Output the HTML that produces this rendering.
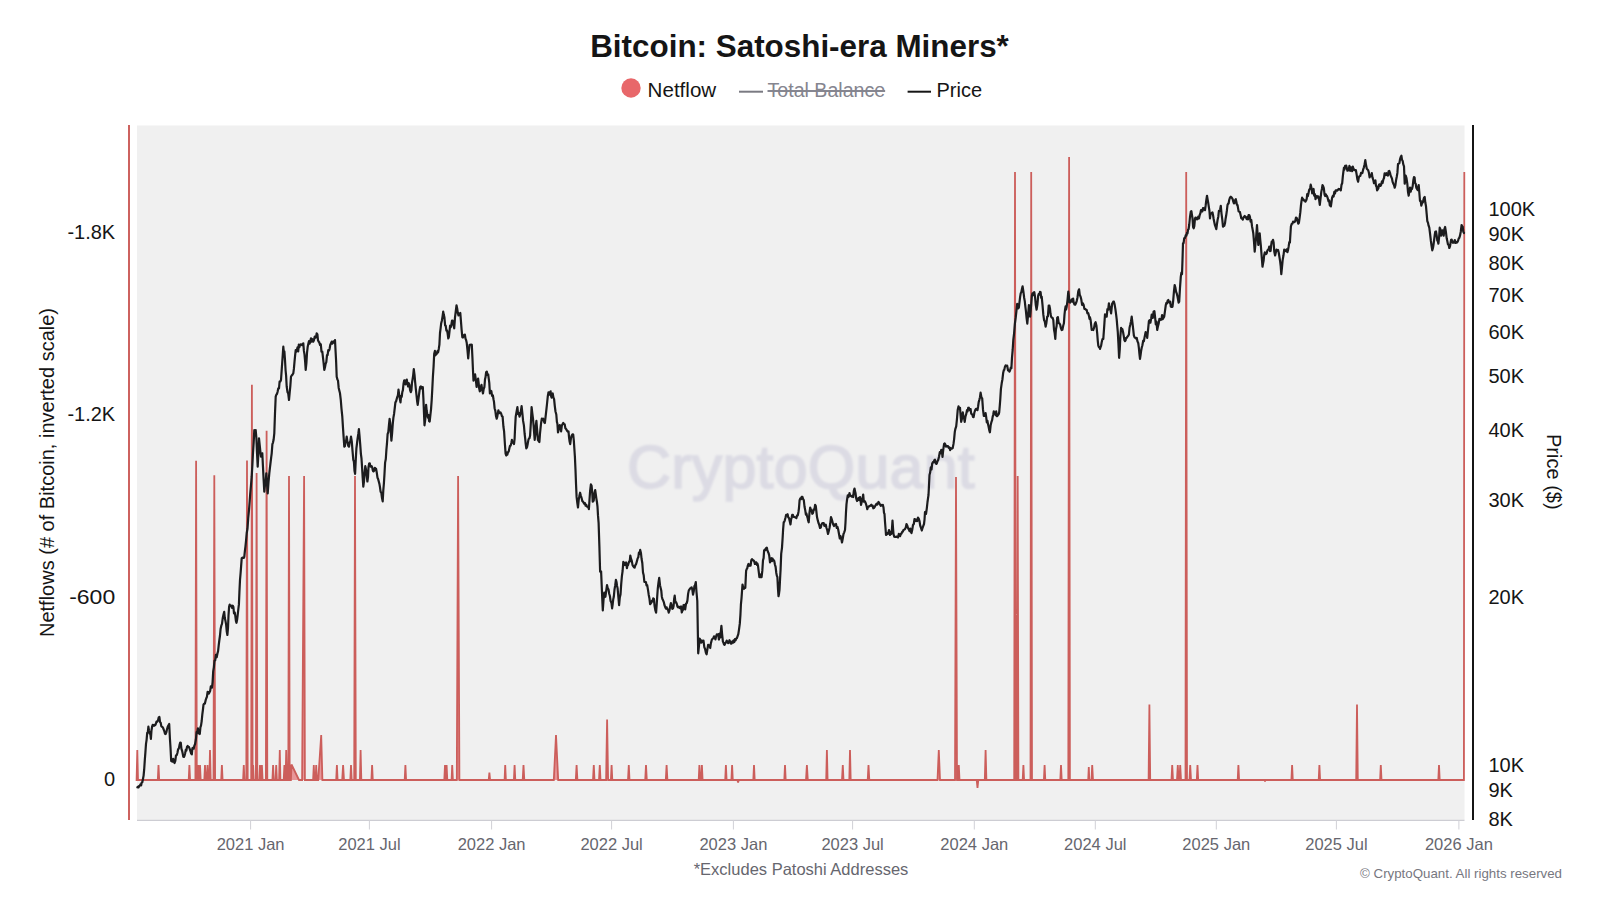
<!DOCTYPE html>
<html><head><meta charset="utf-8"><title>Bitcoin: Satoshi-era Miners</title>
<style>
html,body{margin:0;padding:0;background:#fff;width:1600px;height:900px;overflow:hidden}
svg{display:block}
text{font-family:"Liberation Sans",sans-serif}
</style></head><body>
<svg width="1600" height="900" viewBox="0 0 1600 900">
<rect x="0" y="0" width="1600" height="900" fill="#fff"/>
<!-- title -->
<text x="799.5" y="57" text-anchor="middle" font-size="31.4" font-weight="bold" fill="#151515">Bitcoin: Satoshi-era Miners*</text>
<!-- legend -->
<circle cx="631" cy="88" r="9.7" fill="#e8676a"/>
<text x="647.6" y="97" font-size="20" fill="#151515" textLength="68.6" lengthAdjust="spacingAndGlyphs">Netflow</text>
<line x1="739" y1="91.7" x2="763" y2="91.7" stroke="#7a7a82" stroke-width="2"/>
<text x="767.5" y="97" font-size="19.6" fill="#85858f" text-decoration="line-through">Total Balance</text>
<line x1="907.6" y1="91.7" x2="931" y2="91.7" stroke="#151515" stroke-width="2"/>
<text x="936.5" y="97" font-size="20" fill="#151515">Price</text>
<!-- plot bg -->
<rect x="137" y="125.5" width="1327.5" height="694.5" fill="#f0f0f0"/>
<!-- watermark -->
<defs><filter id="wmb" x="-10%" y="-30%" width="120%" height="160%"><feGaussianBlur stdDeviation="1.2"/></filter></defs>
<text x="801" y="488" text-anchor="middle" font-size="61" letter-spacing="0.2" fill="#dcdbe4" stroke="#dcdbe4" stroke-width="1.6" filter="url(#wmb)">CryptoQuant</text>
<path d="M137.2,780 L136.6,780 L137.3,750 L138,780 L157.8,780 L158.5,765 L159.2,780 L188.7,780 L189.4,765 L190.1,780 L195.4,780 L196.1,460.7 L196.8,780 L197.4,780 L198.1,765 L198.8,780 L199.3,780 L200,765 L200.7,780 L204.3,780 L205,765 L205.7,780 L206.8,780 L207.5,765 L208.2,780 L209.3,780 L210,750 L210.7,780 L213.5,780 L214.3,475.3 L215.1,780 L221.2,780 L221.9,765 L222.6,780 L243.1,780 L243.8,765 L244.4,780 L246.3,780 L247,460.4 L247.7,780 L251.2,780 L251.9,384.7 L252.6,780 L252.4,780 L253.1,765 L253.8,780 L255.9,780 L256.6,473 L257.3,780 L259.3,780 L260,765 L260.7,780 L261.2,780 L261.9,765 L262.6,780 L265.9,780 L266.6,430.7 L267.3,780 L272.4,780 L273.1,765 L273.8,780 L275.6,780 L276.2,765 L276.9,780 L279.1,780 L279.8,750 L280.4,780 L283.7,780 L284.4,765 L285.1,780 L285.6,780 L286.2,750 L286.9,780 L288.3,780 L289,476 L289.7,780 L290.9,780 L291.5,764.5 L299,780 L302.1,780 L304.1,476 L304.9,780 L313.1,780 L313.8,765 L314.4,780 L315.6,780 L316.2,765 L316.9,780 L318.2,780 L321.2,735 L322.4,780 L336.2,780 L336.9,765 L337.6,780 L342.2,780 L343.1,765 L344,780 L350.3,780 L351,765 L351.7,780 L354.2,780 L355,476 L355.8,780 L359.9,780 L360.6,750 L361.3,780 L371.4,780 L372.1,765 L372.8,780 L404.7,780 L405.4,765 L406.1,780 L444.3,780 L445,765 L445.7,780 L445.9,780 L446.6,765 L447.3,780 L451.6,780 L452.2,765 L452.9,780 L456.8,780 L458.1,476 L459.4,780 L488.7,780 L489.4,772.5 L490.1,780 L504.6,780 L505.2,765 L505.9,780 L513.9,780 L514.6,765 L515.3,780 L522.7,780 L523.5,765 L524.3,780 L553.8,780 L556,735 L558.2,780 L575.8,780 L576.6,765 L577.4,780 L593,780 L593.8,765 L594.5,780 L599,780 L599.8,765 L600.5,780 L606.1,780 L607.1,719.4 L608.1,780 L610.9,780 L611.6,765 L612.3,780 L628,780 L628.8,765 L629.5,780 L645.2,780 L646,765 L646.8,780 L665.8,780 L666.6,765 L667.4,780 L698.7,780 L699.4,765 L700.1,780 L701.2,780 L701.9,765 L702.6,780 L725.2,780 L725.9,765 L726.6,780 L731.4,780 L732.1,765 L732.8,780 L737.4,780 L738.1,782.5 L738.8,780 L753.3,780 L754,765 L754.7,780 L784.3,780 L785,765 L785.7,780 L806,780 L806.9,765 L807.8,780 L826.2,780 L826.9,750 L827.6,780 L842,780 L842.8,765 L843.5,780 L849.3,780 L850,750 L850.7,780 L867.7,780 L868.5,765 L869.3,780 L937.5,780 L938.8,750 L940,780 L955,780 L956,477 L957,780 L958,780 L958.8,765 L959.5,780 L976.7,780 L977.5,788 L978.3,780 L984.8,780 L985.6,750 L986.4,780 L1014.2,780 L1015,172 L1015.8,780 L1017,780 L1017.7,476 L1018.4,780 L1022.7,780 L1023.4,765 L1024.1,780 L1030.5,780 L1031.2,172 L1032,780 L1043.9,780 L1044.6,765 L1045.3,780 L1060.3,780 L1061,765 L1061.7,780 L1068.3,780 L1069.1,157 L1069.9,780 L1088.2,780 L1088.8,767 L1089.3,780 L1091.5,780 L1092.2,765 L1093,780 L1148.6,780 L1149.4,704.4 L1150.2,780 L1171.5,780 L1172.2,765 L1173,780 L1177,780 L1177.8,765 L1178.5,780 L1179.5,780 L1180.2,765 L1181,780 L1185.5,780 L1186.2,172 L1187,780 L1189.5,780 L1190.2,765 L1191,780 L1196.8,780 L1197.5,765 L1198.2,780 L1237.7,780 L1238.4,765 L1239.1,780 L1264.4,780 L1265,781.5 L1265.6,780 L1291.4,780 L1292.1,765 L1292.8,780 L1318.7,780 L1319.4,765 L1320.1,780 L1356.2,780 L1357,704.4 L1357.8,780 L1380.1,780 L1380.8,765 L1381.5,780 L1438.3,780 L1439,765 L1439.7,780 L1463.9,780 L1464.3,172 L1464.3,780 Z" fill="rgba(226,90,95,0.6)" stroke="none"/>
<path d="M137.2,780 L136.6,780 L137.3,750 L138,780 L157.8,780 L158.5,765 L159.2,780 L188.7,780 L189.4,765 L190.1,780 L195.4,780 L196.1,460.7 L196.8,780 L197.4,780 L198.1,765 L198.8,780 L199.3,780 L200,765 L200.7,780 L204.3,780 L205,765 L205.7,780 L206.8,780 L207.5,765 L208.2,780 L209.3,780 L210,750 L210.7,780 L213.5,780 L214.3,475.3 L215.1,780 L221.2,780 L221.9,765 L222.6,780 L243.1,780 L243.8,765 L244.4,780 L246.3,780 L247,460.4 L247.7,780 L251.2,780 L251.9,384.7 L252.6,780 L252.4,780 L253.1,765 L253.8,780 L255.9,780 L256.6,473 L257.3,780 L259.3,780 L260,765 L260.7,780 L261.2,780 L261.9,765 L262.6,780 L265.9,780 L266.6,430.7 L267.3,780 L272.4,780 L273.1,765 L273.8,780 L275.6,780 L276.2,765 L276.9,780 L279.1,780 L279.8,750 L280.4,780 L283.7,780 L284.4,765 L285.1,780 L285.6,780 L286.2,750 L286.9,780 L288.3,780 L289,476 L289.7,780 L290.9,780 L291.5,764.5 L299,780 L302.1,780 L304.1,476 L304.9,780 L313.1,780 L313.8,765 L314.4,780 L315.6,780 L316.2,765 L316.9,780 L318.2,780 L321.2,735 L322.4,780 L336.2,780 L336.9,765 L337.6,780 L342.2,780 L343.1,765 L344,780 L350.3,780 L351,765 L351.7,780 L354.2,780 L355,476 L355.8,780 L359.9,780 L360.6,750 L361.3,780 L371.4,780 L372.1,765 L372.8,780 L404.7,780 L405.4,765 L406.1,780 L444.3,780 L445,765 L445.7,780 L445.9,780 L446.6,765 L447.3,780 L451.6,780 L452.2,765 L452.9,780 L456.8,780 L458.1,476 L459.4,780 L488.7,780 L489.4,772.5 L490.1,780 L504.6,780 L505.2,765 L505.9,780 L513.9,780 L514.6,765 L515.3,780 L522.7,780 L523.5,765 L524.3,780 L553.8,780 L556,735 L558.2,780 L575.8,780 L576.6,765 L577.4,780 L593,780 L593.8,765 L594.5,780 L599,780 L599.8,765 L600.5,780 L606.1,780 L607.1,719.4 L608.1,780 L610.9,780 L611.6,765 L612.3,780 L628,780 L628.8,765 L629.5,780 L645.2,780 L646,765 L646.8,780 L665.8,780 L666.6,765 L667.4,780 L698.7,780 L699.4,765 L700.1,780 L701.2,780 L701.9,765 L702.6,780 L725.2,780 L725.9,765 L726.6,780 L731.4,780 L732.1,765 L732.8,780 L737.4,780 L738.1,782.5 L738.8,780 L753.3,780 L754,765 L754.7,780 L784.3,780 L785,765 L785.7,780 L806,780 L806.9,765 L807.8,780 L826.2,780 L826.9,750 L827.6,780 L842,780 L842.8,765 L843.5,780 L849.3,780 L850,750 L850.7,780 L867.7,780 L868.5,765 L869.3,780 L937.5,780 L938.8,750 L940,780 L955,780 L956,477 L957,780 L958,780 L958.8,765 L959.5,780 L976.7,780 L977.5,788 L978.3,780 L984.8,780 L985.6,750 L986.4,780 L1014.2,780 L1015,172 L1015.8,780 L1017,780 L1017.7,476 L1018.4,780 L1022.7,780 L1023.4,765 L1024.1,780 L1030.5,780 L1031.2,172 L1032,780 L1043.9,780 L1044.6,765 L1045.3,780 L1060.3,780 L1061,765 L1061.7,780 L1068.3,780 L1069.1,157 L1069.9,780 L1088.2,780 L1088.8,767 L1089.3,780 L1091.5,780 L1092.2,765 L1093,780 L1148.6,780 L1149.4,704.4 L1150.2,780 L1171.5,780 L1172.2,765 L1173,780 L1177,780 L1177.8,765 L1178.5,780 L1179.5,780 L1180.2,765 L1181,780 L1185.5,780 L1186.2,172 L1187,780 L1189.5,780 L1190.2,765 L1191,780 L1196.8,780 L1197.5,765 L1198.2,780 L1237.7,780 L1238.4,765 L1239.1,780 L1264.4,780 L1265,781.5 L1265.6,780 L1291.4,780 L1292.1,765 L1292.8,780 L1318.7,780 L1319.4,765 L1320.1,780 L1356.2,780 L1357,704.4 L1357.8,780 L1380.1,780 L1380.8,765 L1381.5,780 L1438.3,780 L1439,765 L1439.7,780 L1463.9,780 L1464.3,172" fill="none" stroke="#cc5e5b" stroke-width="1.8" stroke-linejoin="miter" stroke-miterlimit="2"/>
<path d="M137.4,787.3 L138,786.6 L138.6,787.4 L139.2,786 L139.9,785.6 L140.5,784.3 L141.1,785.4 L141.7,782.6 L142.3,782.2 L143,778.7 L143.6,775.6 L144.2,769.2 L144.8,760.1 L145.4,752.3 L146,743.8 L146.6,739.8 L147.2,732.8 L147.8,732.3 L148.4,726.7 L149,730.5 L149.7,733.6 L150.3,733.4 L150.9,739 L151.5,730.2 L152.1,726.7 L152.7,724.9 L153.3,725.1 L153.9,725.8 L154.6,724.8 L155.2,725.2 L155.8,724 L156.5,721.6 L157.2,721.7 L158,720.4 L158.7,717.4 L159.4,717 L160,722 L160.7,722.7 L161.3,726.1 L161.9,726.7 L162.5,727 L163.1,728 L163.8,729.8 L164.4,731.4 L165,733.7 L165.6,734 L166.3,732.4 L167,729.3 L167.8,726.6 L168.5,725.2 L169.2,724 L169.9,738.2 L170.5,747.5 L171.2,761 L171.9,761.4 L172.6,761.6 L173.2,758.8 L173.9,761.1 L174.6,763 L175.3,761 L176,755.3 L176.7,755.3 L177.4,753 L178.1,749.3 L178.8,748.6 L179.5,745.1 L180.2,742.6 L180.8,742.8 L181.4,748.6 L182.1,750.8 L182.7,753.6 L183.3,756.8 L183.9,757 L184.5,755.7 L185.1,753.5 L185.8,749.6 L186.4,750.6 L187,746.9 L187.6,746 L188.3,746.8 L189,747.1 L189.8,749.1 L190.5,751.3 L191.2,753.6 L191.8,754.3 L192.4,748.1 L193.1,747.7 L193.7,748.7 L194.4,745.6 L195.1,744 L195.9,739.3 L196.6,732.2 L197.3,731.6 L197.9,728.4 L198.6,733.3 L199.2,732.3 L199.8,734 L200.4,727.4 L201,725.7 L201.7,721 L202.3,714.7 L202.9,710 L203.5,704.7 L204.2,703.6 L204.9,703.6 L205.6,700.4 L206.2,698.5 L206.9,696.8 L207.6,691.9 L208.3,692.5 L208.9,693.6 L209.5,692.3 L210.2,690.8 L210.8,686.3 L211.4,687.5 L212,687.6 L212.6,682.1 L213.2,671.4 L213.9,667.1 L214.5,660.7 L215.2,660.3 L215.9,654.9 L216.7,657.3 L217.4,653.8 L218.1,651 L218.7,645.3 L219.3,640.5 L220,635.5 L220.6,629 L221.3,625.7 L222,623.8 L222.8,617.7 L223.5,614.6 L224.2,611.8 L224.8,618 L225.5,621.1 L226.1,624.4 L226.8,631.8 L227.4,635 L228,627.8 L228.5,615.6 L229.1,606.9 L229.7,604.6 L230.3,606.3 L230.9,606.1 L231.6,605.7 L232.2,608 L232.8,605.7 L233.4,607 L234,613.3 L234.7,612.3 L235.3,615.9 L235.9,620.9 L236.5,622.8 L237.1,619.9 L237.7,614.9 L238.3,609.5 L238.9,604.4 L239.4,592.4 L240,580 L240.6,573 L241.1,566.4 L241.7,558.3 L242.3,557.6 L243,557.9 L243.7,558 L244.3,556.7 L244.9,550.9 L245.5,546.1 L246.1,540 L246.7,533.3 L247.5,528.5 L248.2,518.3 L249,510 L249.7,501 L250.3,492.8 L251,485 L251.7,476.7 L252.3,466.4 L253,452.8 L253.7,442.3 L254.3,430 L255,432.8 L255.7,430 L256.4,438.4 L257,452.8 L257.7,466.7 L258.4,452.9 L259,438.3 L259.7,445 L260.3,450.9 L261,456.7 L261.6,454.4 L262.3,453.3 L263,467.1 L263.6,479.3 L264.3,491.7 L265,484.8 L265.6,483.1 L266.3,473.3 L267,483.8 L267.7,493.3 L268.5,482.5 L269.3,473.3 L269.9,468.2 L270.5,463 L271.1,458.2 L271.7,453.3 L272.4,444.2 L273,442.6 L273.6,439.8 L274.3,433.3 L275,413.2 L275.7,396.7 L276.4,394.5 L277,393.9 L277.6,391.7 L278.3,388.3 L279,388.5 L279.6,381.6 L280.3,381.5 L281,380 L281.8,368.4 L282.5,358.7 L283.3,346.7 L283.9,352.8 L284.4,351.5 L285,360 L285.6,370.5 L286.1,375.6 L286.7,386.7 L287.5,392.2 L288.2,393.3 L289,400 L289.7,392.5 L290.3,386.3 L291,376.7 L291.8,375.3 L292.5,374.7 L293.3,373.3 L293.9,368.7 L294.5,361.9 L295.1,355.7 L295.7,350 L296.3,351.6 L296.9,350.1 L297.5,347.4 L298.2,351.3 L298.8,344.7 L299.4,347.1 L300,345 L300.7,344.3 L301.3,344.5 L302,345 L302.6,344 L303.3,343.3 L303.9,350.9 L304.5,354.4 L305.1,361.1 L305.7,370 L306.4,363.2 L307,353 L307.7,346.7 L308.4,343.5 L309,341.1 L309.7,343.6 L310.3,341.1 L311,338.3 L311.8,341.6 L312.5,339.2 L313.3,341.7 L314,340 L314.7,336.6 L315.3,337.8 L316,337.4 L316.7,333.3 L317.4,334.3 L318,340.3 L318.7,341.8 L319.3,342.4 L320,345 L320.8,344.3 L321.5,351.6 L322.3,351.7 L323,357.7 L323.6,363 L324.3,370 L325,367.3 L325.6,363.9 L326.3,362.2 L327,355.1 L327.6,355 L328.3,350 L329,350.6 L329.6,348.8 L330.3,344.7 L331,343.3 L331.7,341.6 L332.3,343.7 L333,341.8 L333.7,341.3 L334.3,342.7 L335,340 L335.6,351.8 L336.1,361 L336.7,376.7 L337.4,379.4 L338,380.6 L338.7,387.9 L339.3,390.5 L340,393.3 L340.8,400.2 L341.5,408.9 L342.3,416.7 L343,427.9 L343.6,436.8 L344.3,446.7 L344.9,446.2 L345.5,441.6 L346.1,440.8 L346.7,436.7 L347.5,442.3 L348.2,445.8 L349,446.7 L349.7,442.4 L350.3,441.4 L351,436.7 L351.8,441.7 L352.5,450.6 L353.3,460 L353.9,461.7 L354.5,470.8 L355.1,473.8 L355.8,459.2 L356.4,448.3 L357,443.5 L357.6,438.4 L358.3,433.9 L358.9,429.1 L359.5,435.6 L360.2,444.2 L360.9,453.8 L361.5,458.5 L362.1,467.9 L362.7,478 L363.3,486.6 L364,481.3 L364.6,472.7 L365.3,466.2 L366,469.4 L366.7,475.6 L367.4,481.5 L368,477.1 L368.5,467.1 L369.1,463.6 L369.8,463.4 L370.4,466.4 L371.1,466.7 L371.7,466.2 L372.3,467.9 L372.9,470.8 L373.5,471.3 L374.2,470.7 L374.8,467.8 L375.5,468.7 L376.1,468.9 L376.8,472.8 L377.5,477.7 L378.1,478.9 L378.7,481.3 L379.4,483.9 L380,487.3 L380.6,491.7 L381.3,492.6 L382,498 L382.7,501.4 L383.3,490.4 L383.9,483.5 L384.5,473.8 L385.1,462.6 L385.8,459 L386.4,449.9 L387,443.2 L387.6,434.2 L388.3,432.1 L389,424.6 L389.6,418.9 L390.2,422.8 L390.8,432.1 L391.4,440.6 L392.1,433.4 L392.7,424.6 L393.4,417.6 L394.1,413.7 L394.7,408.5 L395.4,402.3 L396,401.6 L396.6,399.4 L397.2,397.2 L397.9,395.4 L398.5,389.6 L399.2,394.8 L399.8,398.7 L400.5,402.3 L401.1,395.8 L401.7,396.8 L402.3,392.1 L402.9,390.2 L403.5,384 L404.1,380.6 L404.8,380.3 L405.5,384.4 L406.2,381.9 L406.8,379.6 L407.4,383.3 L408.1,386.5 L408.7,383.2 L409.4,384.8 L410.1,390.2 L410.8,392.1 L411.4,390.3 L412,382.7 L412.6,379.1 L413.2,375.1 L413.8,369.1 L414.5,374.6 L415.2,382.6 L415.9,389.6 L416.5,395.1 L417.1,401 L417.7,404.9 L418.3,400.4 L418.9,395.7 L419.6,390 L420.2,387 L420.9,386.5 L421.5,388.3 L422.1,387.2 L422.8,387 L423.4,398.5 L423.9,411.3 L424.5,425.3 L425.3,419.1 L426.1,404.9 L426.7,410.8 L427.3,414.3 L427.9,417.6 L428.5,415 L429.1,421.1 L429.7,421.5 L430.4,415 L431,409.6 L431.7,399.8 L432.3,388.9 L432.9,376.7 L433.6,366.1 L434.2,353.8 L434.9,350.9 L435.5,355.3 L436.1,354.3 L436.8,353.8 L437.5,351 L438.1,352.4 L438.8,348.7 L439.4,344.6 L440,333 L440.6,328.3 L441.2,323.2 L441.9,320.4 L442.6,316.1 L443.2,311.7 L443.8,314.6 L444.4,317.2 L445.1,325.4 L445.7,325.7 L446.4,330.5 L447,330.3 L447.6,333.3 L448.3,338.5 L448.9,336.8 L449.5,331.5 L450.1,325.7 L450.7,327.2 L451.4,324.4 L452,320.6 L452.6,320.6 L453.4,324.8 L454.2,328.3 L455,317.4 L455.7,311.8 L456.5,305.3 L457.2,308.6 L457.8,312.9 L458.5,315.5 L459.1,313.6 L459.7,313.6 L460.3,313 L461,321.8 L461.6,329.7 L462.3,337.2 L462.9,337.5 L463.6,336.3 L464.2,334.8 L464.9,334.7 L465.5,338.6 L466.1,340.1 L466.7,342.7 L467.4,349.4 L468.2,358.5 L468.9,350.7 L469.6,344.8 L470.3,344.8 L471.1,344.6 L471.8,344.8 L472.4,357 L472.9,368.7 L473.5,380.7 L474.3,377.8 L475.1,374.4 L475.9,380.5 L476.6,387 L477.4,380.9 L478.1,378.6 L478.7,383.5 L479.2,388.6 L479.8,391.3 L480.4,389.8 L480.9,386.7 L481.5,384.9 L482.2,389.8 L483,393.4 L483.7,388.8 L484.4,387 L485,379.3 L485.5,377.3 L486.1,372.3 L486.8,371.6 L487.5,374.8 L488.2,374.4 L488.8,379.1 L489.3,383.1 L489.9,393.4 L490.6,390.8 L491.4,391.3 L492.1,395.8 L492.9,395.5 L493.5,399.2 L494,401.9 L494.6,408.2 L495.3,410.6 L496,416 L496.7,418.7 L497.3,416.6 L497.8,413.4 L498.4,410.3 L499.1,413.2 L499.8,412.8 L500.5,412.4 L501.2,413.8 L501.9,416.1 L502.6,416.6 L503.4,426.5 L504.1,431.4 L504.9,444 L505.6,453.6 L506.2,455.5 L506.7,452.7 L507.3,454.7 L508,452.3 L508.7,451.5 L509.4,448.3 L510,445.8 L510.6,445.7 L511.3,442.9 L511.9,439.9 L512.6,442.7 L513.3,442.4 L514,444.1 L514.6,438.8 L515.1,427.6 L515.7,416.6 L516.3,413.1 L516.8,410.4 L517.4,407.1 L518.1,414.2 L518.8,412.9 L519.5,416.6 L520.2,414.4 L520.9,411.1 L521.6,406.1 L522.4,413.5 L523.1,420.9 L523.9,425.4 L524.6,433.5 L525.2,438.7 L525.7,443.9 L526.3,448.3 L527,447.2 L527.7,443.9 L528.4,439.9 L529,438.5 L529.5,438.3 L530.1,435.6 L530.9,422.2 L531.6,407.1 L532.3,413.2 L533,418.7 L533.6,425.8 L534.1,432.5 L534.7,439.9 L535.3,434.6 L535.8,425.7 L536.4,420.9 L537.1,429.5 L537.9,439.9 L538.6,441 L539.4,442 L540,433.5 L540.5,428.7 L541.1,423 L541.8,418.6 L542.5,419.1 L543.2,418.7 L543.8,421 L544.3,422.4 L544.9,423 L545.6,416.6 L546.3,410.3 L547,404 L547.8,396.2 L548.5,392.3 L549.2,394.7 L549.9,392.4 L550.6,391.3 L551.1,396.1 L551.6,397.6 L552.2,394.2 L552.7,393.4 L553.4,397.4 L554.1,399.1 L554.8,406.1 L555.5,411.5 L556.3,414.5 L556.9,421.9 L557.4,423.7 L558,432.5 L558.6,430 L559.1,428.5 L559.7,425.1 L560.4,425.6 L561.1,431.4 L561.8,425.9 L562.5,424.2 L563.2,423 L563.9,423.8 L564.7,424.4 L565.4,428.2 L566,428.9 L566.6,429.9 L567.3,431.1 L567.9,431.8 L568.5,431.4 L569.1,437.9 L569.6,441.6 L570.2,444.1 L571,437.9 L571.7,435.6 L572.5,434.3 L573.2,434.6 L573.8,440.4 L574.3,447.8 L574.9,456.8 L575.5,470 L576,483.5 L576.6,496.9 L577.3,502.9 L578,507.5 L578.7,500.2 L579.4,495.8 L580.1,492.7 L580.8,495.5 L581.6,498 L582.3,501.1 L582.9,501.5 L583.6,502.8 L584.2,503.8 L584.9,503 L585.6,505.6 L586.3,504.9 L586.9,506.5 L587.6,506.9 L588.2,507 L588.9,509.1 L589.5,499.8 L590.1,491.1 L590.9,484.4 L591.6,485.8 L592.2,492.3 L592.7,501.7 L593.2,501.2 L593.7,500.6 L594.5,493.1 L595.2,490.1 L595.8,494.3 L596.3,498.1 L596.9,501.7 L597.5,506.7 L598,515.4 L598.6,522.8 L599.4,546.6 L600.1,571.4 L600.6,572.1 L601.1,571.4 L601.7,585.4 L602.2,597.4 L602.8,610.5 L603.5,600.2 L604.3,592.5 L604.8,594.4 L605.4,596.8 L606.2,590.9 L607,585.1 L607.8,588.4 L608.5,589.4 L609.2,593.7 L609.9,596 L610.6,601 L611.4,602.7 L612.1,608.4 L612.7,604 L613.2,599.6 L613.8,596.8 L614.5,589.5 L615.2,585.4 L615.9,579.9 L616.5,582 L617,585.7 L617.6,588.3 L618.4,597.5 L619.1,605.2 L619.8,597.5 L620.5,594.6 L621.2,584.1 L621.9,576.2 L622.6,571 L623.3,561.9 L624,562.8 L624.7,565 L625.4,564 L626.1,562.5 L626.9,568.2 L627.5,565.3 L628,565.1 L628.6,563 L629.2,561.4 L629.7,561.6 L630.3,555.6 L631,558.7 L631.8,560.9 L632.5,564.9 L633.2,566.2 L633.9,567.2 L634.6,567.6 L635.4,565.1 L636.2,563.8 L637,560.9 L637.6,558.5 L638.3,557.3 L638.9,552.7 L639.6,553.9 L640.2,549.9 L640.9,552.7 L641.6,559 L642.3,563 L643,572.5 L643.7,575.3 L644.4,582 L645.1,582 L645.9,582 L646.5,585.3 L647.2,585.1 L648,589.9 L648.7,594.7 L649.4,598.2 L650.1,604.2 L650.7,603.5 L651.2,602.9 L651.8,601 L652.5,601.4 L653.2,598.4 L653.9,598.9 L654.6,606.1 L655.4,610.5 L656.1,612.6 L656.7,604.5 L657.2,596.8 L657.8,588.3 L658.5,582.4 L659.2,577.8 L660,585.2 L660.7,588.3 L661.3,590.8 L661.8,596.4 L662.4,598.9 L663.1,600.3 L663.8,602.1 L664.5,605.2 L665.2,607 L665.9,608.6 L666.6,607.3 L667.3,609.1 L668,609.8 L668.7,612.6 L669.4,610.7 L670.2,606.2 L670.9,603.1 L671.6,605.3 L672.3,608.9 L673,608.4 L673.6,605.9 L674.1,599.2 L674.7,595.7 L675.4,602.3 L676.1,602.1 L676.8,603.8 L677.5,606.7 L678.2,607.3 L678.9,606.7 L679.7,608 L680.4,608.4 L681.1,606.5 L681.8,612.5 L682.5,610.5 L683,609.9 L683.5,605.2 L684.1,604.8 L684.6,605.7 L685.2,609.4 L686,603.8 L686.7,603.1 L687.4,600.6 L688.1,593.9 L688.8,590.4 L689.5,589.5 L690.2,588.4 L690.9,587.9 L691.6,587.3 L692.3,589.4 L693,594.7 L693.7,591.6 L694.4,586.2 L695.1,585.1 L695.8,582 L696.5,592 L697.3,601 L698.2,653.3 L698.9,646.6 L699.6,638.5 L700.2,639.6 L700.7,639.9 L701.3,642.7 L702,642.2 L702.8,640.6 L703.5,640.6 L704.3,647.1 L705.1,649 L705.9,652.8 L706.6,654.3 L707.4,649.4 L708.1,644.8 L708.8,645.2 L709.5,645.9 L710.2,648 L710.8,643.8 L711.3,641.8 L711.9,639.5 L712.6,638.9 L713.3,638.1 L714,636.3 L714.7,637.2 L715.4,639.4 L716.1,636.3 L716.8,634.5 L717.5,634.9 L718.2,634.2 L718.9,639.5 L719.7,633.5 L720.4,637.4 L720.9,630.8 L721.4,625.8 L722.1,634 L722.9,641.6 L723.5,642.9 L724,644.3 L724.6,644.8 L725.3,643 L726,642.5 L726.7,640.6 L727.4,641.4 L728.1,643.2 L728.8,642.7 L729.5,640.2 L730.2,642 L730.9,643.7 L731.6,643.4 L732.3,641.5 L733,642.7 L733.6,640.3 L734.3,642 L734.9,639.2 L735.6,640.3 L736.2,638.5 L736.9,638.2 L737.6,636.1 L738.3,634.2 L739,629.7 L739.8,623.7 L740.4,615.1 L740.9,604.7 L741.5,598.3 L742,591.4 L742.5,584.6 L743.2,587.4 L744,588.8 L744.6,587.5 L745.3,587.8 L746.1,570.9 L746.7,569 L747.2,568.5 L747.8,565.6 L748.5,563.9 L749.2,565.8 L749.9,564.5 L750.6,565.5 L751.3,560.1 L752,559.2 L752.7,560.1 L753.5,560.4 L754.2,561.3 L754.9,564 L755.6,562.5 L756.3,562.4 L756.9,564.8 L757.4,563.5 L758,565.6 L758.7,571.4 L759.4,577.2 L760.1,577.2 L760.9,574.5 L761.6,577.2 L762.3,570.9 L763,560.3 L763.6,558.1 L764.1,550.6 L764.7,549.7 L765.4,550.1 L766.1,548.1 L766.8,547.6 L767.4,550 L767.9,551.7 L768.5,552.9 L769.2,555.4 L770,562.4 L770.8,560 L771.5,558.2 L772.1,561.1 L772.6,558.7 L773.2,560.3 L773.8,560.2 L774.3,561.1 L774.9,564.5 L775.6,566.9 L776.3,573 L776.8,575.6 L777.4,577.2 L778,589.2 L778.5,596.2 L779,593.7 L779.5,589.9 L780.1,578.3 L780.6,569.3 L781.2,553.9 L782,547.6 L782.6,538.4 L783.1,529.7 L783.7,522.3 L784.3,521.7 L784.8,520.3 L785.4,518 L786.1,514.9 L786.9,514.9 L787.6,514.2 L788.3,517.4 L789,518 L789.8,521.6 L790.5,524.4 L791.1,519.3 L791.6,517.8 L792.2,514.9 L792.9,514.8 L793.6,517 L794.3,517 L795,517.2 L795.7,517.5 L796.4,518 L797.1,515.4 L797.8,515.4 L798.5,511.7 L799,508 L799.6,500.1 L800.3,498.5 L801,499.2 L801.7,496.9 L802.4,496.8 L803.1,499.1 L803.8,500.1 L804.5,506.5 L805.3,510.6 L805.9,514.6 L806.4,513.6 L807,515.9 L807.6,517.9 L808.1,520.5 L808.7,522.3 L809.5,512.7 L810.2,507.5 L810.9,509.6 L811.6,510.7 L812.3,513.8 L813,513 L813.7,509.3 L814.4,509.6 L815.1,504.8 L815.8,506 L816.4,511.6 L817,517 L817.8,520.4 L818.5,523 L819.2,524.7 L820,528 L820.8,527.6 L821.5,524.5 L822.2,523.3 L823,523 L823.7,523.1 L824.3,525.7 L825,526 L825.8,524.6 L826.5,528 L827.2,530 L828,534 L828.8,531 L829.5,528 L830.2,523.8 L831,517 L831.8,519.3 L832.5,522 L833.2,524.5 L834,526 L834.7,524.4 L835.3,525.1 L836,524 L836.8,528 L837.5,527 L838.2,529.5 L839,534 L839.8,538.5 L840.5,536 L841.2,538.3 L842,542.5 L842.8,538.3 L843.5,534 L844.2,532.3 L845,530 L845.5,522.5 L846,512 L846.5,504.1 L847,500 L847.8,495.3 L848.5,497 L849,495.9 L849.5,493 L850.2,495.7 L851,496 L851.8,496.7 L852.5,495.5 L853.2,497.1 L853.8,491.1 L854.5,488.5 L855,491.1 L855.5,493 L856.2,498.4 L857,501 L857.8,500.1 L858.5,498 L859.2,500 L860,497 L860.5,499.1 L861,505 L861.8,501.4 L862.5,499 L863.2,494.5 L863.8,501.6 L864.5,501 L865.2,501.9 L866,504 L866.7,506.4 L867.3,509.2 L868,507 L868.7,506.7 L869.3,506 L870,506 L870.7,505.3 L871.3,504.7 L872,506 L872.7,505.7 L873.3,508.3 L874,508 L874.7,506.9 L875.3,505.8 L876,504.5 L876.6,503.6 L877.2,504.6 L877.9,503.4 L878.5,502 L879.2,503 L880,504.5 L880.7,505.8 L881.3,504.9 L882,505.5 L882.8,504.8 L883.5,507.5 L884,512.9 L884.5,514 L885,521.7 L885.5,528 L886,535 L886.8,533.1 L887.5,534 L888.2,533.6 L889,530 L889.5,533 L890,535 L890.6,532.2 L891.2,534 L891.9,529.7 L892.5,520.5 L893,527.8 L893.5,534 L894.2,536.8 L895,537 L895.8,537 L896.5,536.5 L897.2,536.8 L898,537.5 L898.8,533.9 L899.5,535 L900.2,536 L900.8,534 L901.5,533.5 L902.2,531.9 L902.8,531.7 L903.5,530 L904.2,529.6 L905,529 L905.8,527.5 L906.5,524 L907.2,525.4 L908,528 L908.8,529.4 L909.5,531 L910.2,528.5 L910.8,531.7 L911.5,533 L912.2,530 L913,525 L913.8,524 L914.5,519 L915.2,519.5 L916,521 L916.7,519.7 L917.3,521 L918,517.5 L918.8,518.8 L919.5,521 L920.2,525.6 L921,528 L921.8,530.5 L922.5,528 L923.2,526.1 L924,524 L924.5,519.8 L925,512 L925.5,511.9 L926,514 L926.8,508.3 L927.5,502 L928,498.4 L928.5,495 L929,485.2 L929.5,475 L930.1,472.8 L930.8,467.3 L931.5,469.5 L932.2,463.5 L932.9,462.2 L933.6,462.4 L934.3,460.3 L934.9,459.6 L935.5,462.8 L936.1,463.8 L936.7,463.8 L937.5,461.1 L938.2,459.9 L939,456.8 L939.8,452.1 L940.5,453.3 L941.3,449.8 L941.9,451 L942.5,456.8 L943.3,449.3 L944.1,443.9 L944.7,443.5 L945.3,444.3 L946,446.6 L946.6,445.9 L947.2,446.3 L948,446.1 L948.7,447.8 L949.5,447.4 L950.1,450.1 L950.7,448 L951.3,448.8 L951.9,448.6 L952.7,448.1 L953.5,443.9 L954.1,439.3 L954.8,431.9 L955.4,428.8 L956.2,426.3 L956.9,419.6 L957.7,410.1 L958.5,406.4 L959.2,408.5 L960,407.8 L960.6,415.4 L961.2,421.8 L962,418.5 L962.8,412.4 L963.4,416.5 L964.1,418.3 L964.7,421.8 L965.5,416.3 L966.2,414.2 L967,410.1 L967.6,411.4 L968.2,407.9 L968.8,407.7 L969.4,408.9 L970,410.4 L970.6,409.1 L971.2,413.6 L971.8,414.1 L972.4,414.7 L973,416.9 L973.6,417.1 L974.4,412.5 L975.2,410.1 L976,408.8 L976.7,409.5 L977.5,410.1 L978.1,406.5 L978.7,402.1 L979.4,399.6 L980,397.2 L980.6,392.6 L981.4,397.3 L982.2,398.4 L983,409.7 L983.8,415.9 L984.4,415 L985,415.9 L985.6,413.1 L986.2,417.1 L986.8,422.3 L987.4,420.7 L988,424.1 L988.6,426.8 L989.3,430.4 L989.9,432.3 L990.7,425 L991.5,421.8 L992.1,420.2 L992.6,417.1 L993.2,414.8 L993.8,411.3 L994.4,413.6 L995,412.4 L995.6,415.1 L996.2,411.3 L996.8,416.2 L997.4,415.9 L998,415 L998.6,414.3 L999.2,412.4 L999.8,405.3 L1000.3,398.8 L1000.9,389.1 L1001.7,383.3 L1002.4,379.5 L1003.2,372.7 L1003.8,370.2 L1004.3,369.9 L1004.9,366.9 L1005.7,365.3 L1006.4,365.9 L1007.2,365.7 L1008,370.3 L1008.7,370.3 L1009.5,371.6 L1010.1,370.2 L1010.8,367.5 L1011.4,368.1 L1012,357.5 L1012.7,349.7 L1013.3,340 L1014.1,333.3 L1014.9,323.7 L1015.7,317.7 L1016.4,311.3 L1017.2,303.9 L1017.8,305 L1018.3,308.3 L1018.9,307.4 L1019.5,302.1 L1020.1,297.2 L1020.7,293.3 L1021.3,292.3 L1022,288.7 L1022.6,286.3 L1023.4,291.7 L1024.2,298 L1024.8,301.4 L1025.3,306.2 L1025.9,310.9 L1026.6,318.2 L1027.3,323.7 L1028.1,314.9 L1028.9,305 L1029.5,309 L1030.1,316.7 L1030.7,310.3 L1031.3,303 L1031.9,295.7 L1032.5,293.3 L1033.1,295.1 L1033.7,292.7 L1034.3,292.2 L1035.1,297.5 L1035.8,305.1 L1036.6,309.7 L1037.4,304.7 L1038.2,295.7 L1038.8,293.8 L1039.4,294.6 L1040,291.8 L1040.6,292.2 L1041.2,297.9 L1041.7,296.7 L1042.5,304.8 L1043.3,314.4 L1044.1,320.3 L1044.8,321.6 L1045.6,326.7 L1046.4,322.9 L1047.2,316.7 L1047.9,316.3 L1048.7,305.5 L1049.4,305.6 L1050,308.6 L1050.5,313.8 L1051.1,316.7 L1051.8,317.7 L1052.6,317.9 L1053.3,320 L1054,329.5 L1054.6,332.7 L1055.3,338.9 L1055.9,329.4 L1056.6,326.1 L1057.2,317.8 L1057.9,317.1 L1058.7,323.2 L1059.4,323.3 L1060.2,324.7 L1060.9,328 L1061.7,330 L1062.4,329.7 L1063.2,325.7 L1063.9,323.3 L1064.5,314.6 L1065,310 L1065.6,306.4 L1066.1,309.6 L1066.7,306.7 L1067.5,300.3 L1068.3,291.7 L1068.8,295.7 L1069.4,302.2 L1070.2,302.6 L1070.9,301.1 L1071.7,299.4 L1072.4,301.6 L1073.1,298.5 L1073.7,302.7 L1074.4,304.4 L1075.2,304.7 L1075.9,303.3 L1076.7,301.1 L1077.5,297.4 L1078.3,291.1 L1079.1,289.3 L1079.8,295.1 L1080.6,296.7 L1081.3,299.6 L1082.1,304.9 L1082.8,303.3 L1083.6,304.7 L1084.4,308.9 L1085.2,308.8 L1085.9,309.7 L1086.7,310 L1087.4,313.2 L1088.2,313.1 L1088.9,315.6 L1089.5,318.8 L1090,317.4 L1090.6,320 L1091.2,325.4 L1091.7,330 L1092.5,329.2 L1093.3,330 L1094.1,327.6 L1094.8,323.8 L1095.6,322.2 L1096.4,325.4 L1097.2,333.3 L1097.8,341.1 L1098.3,345.6 L1098.9,347.2 L1099.4,347 L1100,348.9 L1100.6,347 L1101.1,345.9 L1101.7,342.2 L1102.5,339.1 L1103.3,338.9 L1103.9,330.6 L1104.4,323.4 L1105,314.4 L1105.6,316 L1106.1,315.4 L1106.7,316.7 L1107.4,309.1 L1108.2,309.6 L1108.9,303.3 L1109.6,307.1 L1110.4,310 L1111.1,313.3 L1111.7,307.9 L1112.2,303.3 L1112.8,303.2 L1113.3,301.6 L1113.9,301.7 L1114.6,304.4 L1115.4,309.1 L1116.1,314.4 L1116.7,319.4 L1117.2,325.3 L1117.8,332.2 L1118.4,343.3 L1119.1,357.8 L1119.8,348.8 L1120.4,335.8 L1121.1,327.8 L1121.8,330.3 L1122.4,329.2 L1123.1,332.2 L1123.7,335.7 L1124.4,340.2 L1125,341.1 L1125.6,340.3 L1126.1,337.8 L1126.7,337.8 L1127.4,336.7 L1128.2,335.8 L1128.9,334.4 L1129.6,327.4 L1130.3,324.6 L1131,321.4 L1131.7,316.7 L1132.4,322.3 L1133.2,329.4 L1133.9,335.6 L1134.6,337.3 L1135.3,337.8 L1136,338.6 L1136.7,337.8 L1137.5,341.4 L1138.3,343.3 L1138.9,348.1 L1139.4,353.7 L1140,358.9 L1140.6,354.8 L1141.1,351 L1141.7,347.8 L1142.4,345.3 L1143.2,340.7 L1143.9,341.1 L1144.5,337.6 L1145,335.1 L1145.6,332.2 L1146.4,333.5 L1147.2,337.8 L1147.8,332.2 L1148.3,327.4 L1148.9,321.1 L1149.6,320.1 L1150.4,322.7 L1151.1,318.9 L1151.7,314.6 L1152.2,317.9 L1152.8,317.8 L1153.6,311.7 L1154.4,311.1 L1155.1,317.3 L1155.8,324.5 L1156.5,321.5 L1157.2,330 L1157.9,326.5 L1158.7,323.4 L1159.4,318.9 L1160,320 L1160.7,319 L1161.4,319.7 L1162.1,315 L1162.8,319.1 L1163.5,317.8 L1164.2,316.7 L1165,310.9 L1165.8,305 L1166.4,302.9 L1167,303.5 L1167.7,300.5 L1168.3,300 L1168.9,302 L1169.5,302.6 L1170.2,301.7 L1170.8,306.7 L1171.4,306.7 L1171.9,307 L1172.5,306.7 L1173.2,300.6 L1174,290.9 L1174.7,285 L1175.4,287.7 L1176,291.5 L1176.7,293.3 L1177.3,295.6 L1178,299.4 L1178.6,302.6 L1179.2,301.7 L1180,287.8 L1180.8,276.7 L1181.4,272.6 L1182,274.2 L1182.5,260 L1183,243.3 L1183.6,243.1 L1184.2,238.3 L1185,238 L1185.8,235 L1186.4,235.7 L1186.9,232.9 L1187.5,233.3 L1188.1,229.5 L1188.6,229.1 L1189.2,225 L1190,217 L1190.8,211.7 L1191.4,211.2 L1191.9,214.6 L1192.5,218.3 L1193.1,227 L1193.7,228.3 L1194.3,226.2 L1195,218.3 L1195.6,217.5 L1196.2,217.7 L1196.9,219.3 L1197.5,219.2 L1198.2,216.7 L1199,218.4 L1199.7,215 L1200.4,213.2 L1201,210 L1201.7,210 L1202.4,211.4 L1203,208 L1203.7,208.3 L1204.3,209.5 L1205,210 L1205.7,205.2 L1206.3,200.1 L1207,195.8 L1207.7,200 L1208.3,203.3 L1208.9,207.3 L1209.4,210.5 L1210,218.3 L1210.6,213.5 L1211.2,213.5 L1211.9,212.8 L1212.5,212.5 L1213.1,215.5 L1213.6,218.7 L1214.2,221.7 L1214.9,225 L1215.6,226.9 L1216.3,229.2 L1217,223.8 L1217.6,219.8 L1218.3,216.7 L1218.9,210.8 L1219.5,211 L1220.2,209.3 L1220.8,205.8 L1221.5,213.6 L1222.3,219.6 L1223,226.7 L1223.7,225.3 L1224.3,225.8 L1225,223.3 L1225.6,218.7 L1226.2,215.3 L1226.9,210.4 L1227.5,205 L1228.1,203.7 L1228.6,203.6 L1229.2,200 L1230,197.5 L1230.8,196.7 L1231.4,197.4 L1232,198 L1232.7,199.3 L1233.3,201.7 L1233.9,203.4 L1234.5,203.1 L1235.2,199.9 L1235.8,199.2 L1236.4,202 L1236.9,204.8 L1237.5,205 L1238.1,208.4 L1238.6,211.3 L1239.2,211.7 L1239.9,212 L1240.6,215.1 L1241.3,218.3 L1242,218.6 L1242.8,219.7 L1243.5,217.3 L1244.2,216.7 L1244.8,216 L1245.5,217.4 L1246.1,217.6 L1246.7,219.2 L1247.3,216.9 L1248,219.4 L1248.6,215.1 L1249.2,215 L1249.9,216.7 L1250.6,221.6 L1251.3,220 L1252,226.2 L1252.6,229.4 L1253.3,233.3 L1254,241.6 L1254.7,251.7 L1255.5,243.4 L1256.2,236.3 L1257,225 L1257.7,235.9 L1258.3,245 L1259,241 L1259.7,233.3 L1260.2,239.3 L1260.8,245 L1261.4,253 L1261.9,259.2 L1262.5,266.7 L1263.1,263.4 L1263.6,260.9 L1264.2,255 L1264.8,252.4 L1265.5,254.1 L1266.1,254.1 L1266.7,253.3 L1267.3,250.8 L1268,249.5 L1268.6,249.5 L1269.2,246.7 L1270,251.1 L1270.6,251 L1271.1,245.8 L1271.7,241.7 L1272.3,242.4 L1273,239.8 L1273.6,242.4 L1274.3,251.8 L1275.1,255.4 L1275.8,252.6 L1276.5,249.6 L1277.2,250.5 L1278,249.9 L1278.7,252.5 L1279.4,256.8 L1280.1,261.2 L1280.7,266.1 L1281.3,274.2 L1282,267.1 L1282.7,259.7 L1283.5,255.3 L1284.2,249.6 L1284.8,250.1 L1285.3,251 L1285.9,251.1 L1286.6,249.3 L1287.4,252.2 L1288.1,249.6 L1288.7,246.2 L1289.3,242.1 L1289.9,242.4 L1290.4,234.2 L1290.9,226.5 L1291.7,223.9 L1292.4,223.6 L1293.1,221.6 L1293.8,222.1 L1294.5,222.2 L1295.2,221.2 L1296,217.6 L1296.7,217.9 L1297.5,220.5 L1298.2,223.6 L1298.9,222.9 L1299.6,217.9 L1300.3,212.4 L1301,204.9 L1301.5,201.1 L1302.1,197.7 L1302.7,198.8 L1303.3,199.4 L1303.9,200.5 L1304.6,200.4 L1305.4,201.6 L1306.1,200.5 L1306.7,198.9 L1307.2,194 L1307.8,196.2 L1308.4,193.8 L1309.1,190.1 L1309.7,189 L1310.2,187.8 L1310.7,184.7 L1311.5,188.1 L1312.2,193.3 L1312.9,191.4 L1313.6,189 L1314.2,195.6 L1314.9,194.2 L1315.5,199.1 L1316.2,196.9 L1317,196 L1317.7,197.7 L1318.4,196.5 L1319.1,199.7 L1319.8,204.9 L1320.5,198.9 L1321.3,191.9 L1321.9,189 L1322.5,185.2 L1323.1,186.1 L1323.8,188.2 L1324.6,194.8 L1325.2,196.1 L1325.8,194.3 L1326.4,195.3 L1327,196.2 L1327.7,198.1 L1328.5,201.1 L1329.2,200.5 L1329.8,205.3 L1330.3,205.9 L1330.9,206.3 L1331.5,202.2 L1332.1,197.7 L1332.8,196 L1333.6,196.5 L1334.3,191.9 L1335,193.5 L1335.7,190.4 L1336.4,190.4 L1337.1,190.6 L1337.9,189.9 L1338.6,189 L1339.3,189.5 L1340.1,189.2 L1340.8,190.4 L1341.5,184.8 L1342.2,183.2 L1342.8,176.6 L1343.4,171.7 L1344,167.5 L1344.5,169.7 L1345.1,165.9 L1345.7,167.4 L1346.2,165.6 L1346.8,168.1 L1347.4,170.7 L1348.1,170.4 L1348.7,169.5 L1349.4,165.9 L1350.2,170.8 L1350.9,167.3 L1351.6,168.9 L1352.2,171.1 L1352.8,166.6 L1353.5,168.8 L1354.1,169.9 L1354.7,170.1 L1355.3,170.2 L1355.9,170.2 L1356.6,174.3 L1357.4,179.5 L1358.1,181.8 L1358.8,177.6 L1359.6,176.1 L1360.3,176 L1361,172.9 L1361.7,173.2 L1362.4,173.1 L1363.2,169.3 L1363.9,167.3 L1364.6,164.3 L1365.3,160.1 L1366,164.8 L1366.8,168.8 L1367.5,169.5 L1368.2,170.2 L1368.9,172.8 L1369.6,177.4 L1370.3,175.3 L1371.1,176 L1371.8,173.1 L1372.5,177.6 L1373.3,180 L1374,183.2 L1374.7,181.3 L1375.4,180.3 L1376,186 L1376.5,186.1 L1377.1,190.4 L1377.7,189.5 L1378.4,188.3 L1379,184.7 L1379.7,184.3 L1380.5,185.9 L1381.2,184.7 L1381.9,181.4 L1382.6,182.9 L1383.3,179.7 L1384,178 L1384.6,173.3 L1385.3,173.7 L1386,175.1 L1386.6,173.2 L1387.3,175 L1388,175.6 L1388.6,171.3 L1389.3,171 L1390,172.8 L1390.6,175.4 L1391.3,177 L1392,178.7 L1392.6,181.9 L1393.3,183.7 L1394,184.9 L1394.7,187.7 L1395.4,185.1 L1396,180.6 L1396.7,177 L1397.4,172.9 L1398,164 L1398.7,163.7 L1399.4,163.2 L1400,159.3 L1400.7,157 L1401.4,155.7 L1402,159.8 L1402.7,161 L1403.3,164.4 L1404,166.3 L1404.7,183.7 L1405.2,181.3 L1405.7,175.7 L1406.5,178.1 L1407.3,183.7 L1408,192 L1408.7,195.7 L1409.3,191.5 L1410,187.7 L1410.7,191.7 L1411.3,188.3 L1412,189 L1412.7,186 L1413.3,180.5 L1414,177 L1414.6,177.6 L1415.1,183.1 L1415.7,183.7 L1416.3,187.7 L1417,189 L1417.6,190 L1418.1,187.6 L1418.7,185 L1419.3,192.1 L1420,201 L1420.7,200.9 L1421.3,205.7 L1422.1,203 L1422.9,202.3 L1423.5,199.5 L1424.1,197.5 L1424.7,197 L1425.3,202.5 L1426,206.3 L1426.7,214.1 L1427.3,221 L1428,222.8 L1428.6,225.7 L1429.3,227.7 L1430.1,234.1 L1430.9,241 L1431.6,246 L1432.3,250.3 L1432.9,248.3 L1433.4,245.5 L1434,241 L1434.7,235.3 L1435.3,231.7 L1436,231.4 L1436.7,235.7 L1437.3,240.5 L1437.8,241.2 L1438.4,243.7 L1439.1,237.4 L1439.7,227.7 L1440.4,229.2 L1441.1,235.7 L1441.8,232.5 L1442.4,230.3 L1443.1,233 L1443.7,235.7 L1444.4,229.2 L1445.1,227 L1445.9,231.9 L1446.7,238.3 L1447.4,241.6 L1448,244.4 L1448.7,245 L1449.3,248 L1450,246.3 L1450.6,242.8 L1451.1,239.8 L1451.7,239.7 L1452.3,241.3 L1453,242.8 L1453.6,242.3 L1454.2,242.4 L1454.8,240 L1455.4,243 L1456,241.7 L1456.7,242.7 L1457.3,242.1 L1458,241 L1458.7,238.5 L1459.3,237.9 L1460,235.7 L1460.8,231.5 L1461.6,225 L1462.2,226.4 L1462.7,226.7 L1463.3,231.7 L1464,233" fill="none" stroke="#1c1c1e" stroke-width="2.2" stroke-linejoin="round" stroke-linecap="round"/>
<!-- x axis -->
<line x1="137" y1="820.3" x2="1464.5" y2="820.3" stroke="#cdcdd3" stroke-width="1.2"/>
<g stroke="#d0d0d6" stroke-width="1" id="ticks">
<line x1="250.6" y1="820" x2="250.6" y2="829.5"/>
<line x1="369.4" y1="820" x2="369.4" y2="829.5"/>
<line x1="491.6" y1="820" x2="491.6" y2="829.5"/>
<line x1="611.6" y1="820" x2="611.6" y2="829.5"/>
<line x1="733.4" y1="820" x2="733.4" y2="829.5"/>
<line x1="852.6" y1="820" x2="852.6" y2="829.5"/>
<line x1="974.3" y1="820" x2="974.3" y2="829.5"/>
<line x1="1095.3" y1="820" x2="1095.3" y2="829.5"/>
<line x1="1216.3" y1="820" x2="1216.3" y2="829.5"/>
<line x1="1336.4" y1="820" x2="1336.4" y2="829.5"/>
<line x1="1458.9" y1="820" x2="1458.9" y2="829.5"/>
</g>
<g font-size="16.5" fill="#66666e" text-anchor="middle" id="xlabels">
<text x="250.6" y="850">2021 Jan</text>
<text x="369.4" y="850">2021 Jul</text>
<text x="491.6" y="850">2022 Jan</text>
<text x="611.6" y="850">2022 Jul</text>
<text x="733.4" y="850">2023 Jan</text>
<text x="852.6" y="850">2023 Jul</text>
<text x="974.3" y="850">2024 Jan</text>
<text x="1095.3" y="850">2024 Jul</text>
<text x="1216.3" y="850">2025 Jan</text>
<text x="1336.4" y="850">2025 Jul</text>
<text x="1458.9" y="850">2026 Jan</text>
</g>
<!-- left axis -->
<g font-size="20" fill="#151515" text-anchor="end">
<text x="115.2" y="238.8">-1.8K</text>
<text x="115.2" y="421.2">-1.2K</text>
<text x="115.2" y="603.5" textLength="46" lengthAdjust="spacingAndGlyphs">-600</text>
<text x="115" y="785.6">0</text>
</g>
<text transform="translate(54,472.5) rotate(-90)" text-anchor="middle" font-size="20" fill="#151515">Netflows (# of Bitcoin, inverted scale)</text>
<!-- right axis -->
<g font-size="20" fill="#151515">
<text x="1488.5" y="216.0">100K</text>
<text x="1488.5" y="241.4">90K</text>
<text x="1488.5" y="269.9">80K</text>
<text x="1488.5" y="302.1">70K</text>
<text x="1488.5" y="339.3">60K</text>
<text x="1488.5" y="383.3">50K</text>
<text x="1488.5" y="437.1">40K</text>
<text x="1488.5" y="506.6">30K</text>
<text x="1488.5" y="604.4">20K</text>
<text x="1488.5" y="771.7">10K</text>
<text x="1488.5" y="797.1">9K</text>
<text x="1488.5" y="825.6">8K</text>
</g>
<text transform="translate(1547,471.8) rotate(90)" text-anchor="middle" font-size="20" fill="#151515">Price ($)</text>
<line x1="129" y1="125" x2="129" y2="820" stroke="#cd625f" stroke-width="2"/>
<line x1="1473" y1="125" x2="1473" y2="820" stroke="#151515" stroke-width="2"/>
<!-- footer -->
<text x="801" y="875" text-anchor="middle" font-size="16.5" fill="#66666e">*Excludes Patoshi Addresses</text>
<text x="1562" y="878" text-anchor="end" font-size="13.3" fill="#77777f">© CryptoQuant. All rights reserved</text>
</svg>
</body></html>
